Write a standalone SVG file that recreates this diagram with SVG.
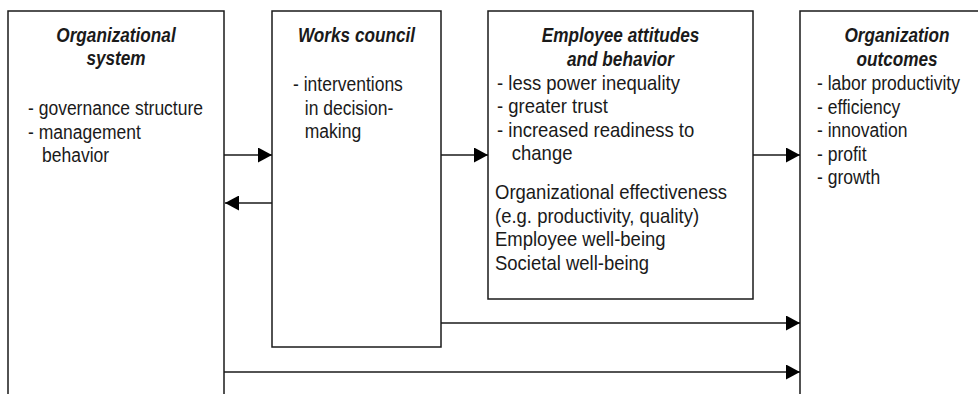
<svg xmlns="http://www.w3.org/2000/svg" width="978" height="394" viewBox="0 0 978 394">
<style>
.box{fill:#fff;stroke:#1a1a1a;stroke-width:1.5}
.t{font-family:"Liberation Sans",Arial,sans-serif;font-size:20px;fill:#1a1a1a}
.h{font-weight:bold;font-style:italic;text-anchor:middle}
.c{stroke:#1a1a1a;stroke-width:1.4;fill:none;marker-end:url(#ah)}
</style>
<defs>
<marker id="ah" markerUnits="userSpaceOnUse" markerWidth="14" markerHeight="15" refX="14" refY="7.5" orient="auto">
<path d="M0,0 L14,7.5 L0,15 Z" fill="#000"/>
</marker>
</defs>
<g id="org-system">
<rect class="box" x="8" y="11" width="216" height="400"/>
<g class="t" transform="translate(116,0) scale(0.86,1)">
<text class="h" x="0" y="42">Organizational</text>
<text class="h" x="0" y="65.5">system</text>
</g>
<g class="t" transform="translate(28,0) scale(0.875,1)">
<text x="0" y="115">- governance structure</text>
<text x="0" y="139">- management</text>
<text x="16" y="162.5">behavior</text>
</g>
</g>
<g id="works-council">
<rect class="box" x="272" y="11" width="169" height="336"/>
<g class="t" transform="translate(356.5,0) scale(0.86,1)">
<text class="h" x="0" y="42">Works council</text>
</g>
<g class="t" transform="translate(293,0) scale(0.875,1)">
<text x="0" y="91">- interventions</text>
<text x="13.5" y="115">in decision-</text>
<text x="13.5" y="138.5">making</text>
</g>
</g>
<g id="employee">
<rect class="box" x="488" y="11" width="265" height="288"/>
<g class="t" transform="translate(620.5,0) scale(0.86,1)">
<text class="h" x="0" y="42.5">Employee attitudes</text>
<text class="h" x="0" y="66">and behavior</text>
</g>
<g class="t" transform="translate(497,0) scale(0.925,1)">
<text x="0" y="90">- less power inequality</text>
<text x="0" y="113.5">- greater trust</text>
<text x="0" y="137">- increased readiness to</text>
<text x="16" y="160.5">change</text>
</g>
<g class="t" transform="translate(495,0) scale(0.925,1)">
<text x="0" y="199.5">Organizational effectiveness</text>
<text x="0" y="223">(e.g. productivity, quality)</text>
<text x="0" y="246.5">Employee well-being</text>
<text x="0" y="270">Societal well-being</text>
</g>
</g>
<g id="org-outcomes">
<rect class="box" x="800" y="11" width="200" height="400"/>
<g class="t" transform="translate(897,0) scale(0.86,1)">
<text class="h" x="0" y="42.5">Organization</text>
<text class="h" x="0" y="66">outcomes</text>
</g>
<g class="t" transform="translate(817,0) scale(0.875,1)">
<text x="0" y="90.5">- labor productivity</text>
<text x="0" y="114">- efficiency</text>
<text x="0" y="137.5">- innovation</text>
<text x="0" y="161">- profit</text>
<text x="0" y="184.5">- growth</text>
</g>
</g>
<g id="connectors">
<line class="c" x1="224" y1="155" x2="272" y2="155"/>
<line class="c" x1="272" y1="203" x2="225" y2="203"/>
<line class="c" x1="441" y1="155" x2="488" y2="155"/>
<line class="c" x1="753" y1="155" x2="800" y2="155"/>
<line class="c" x1="441" y1="323" x2="800" y2="323"/>
<line class="c" x1="224" y1="372" x2="800" y2="372"/>
</g>
</svg>
